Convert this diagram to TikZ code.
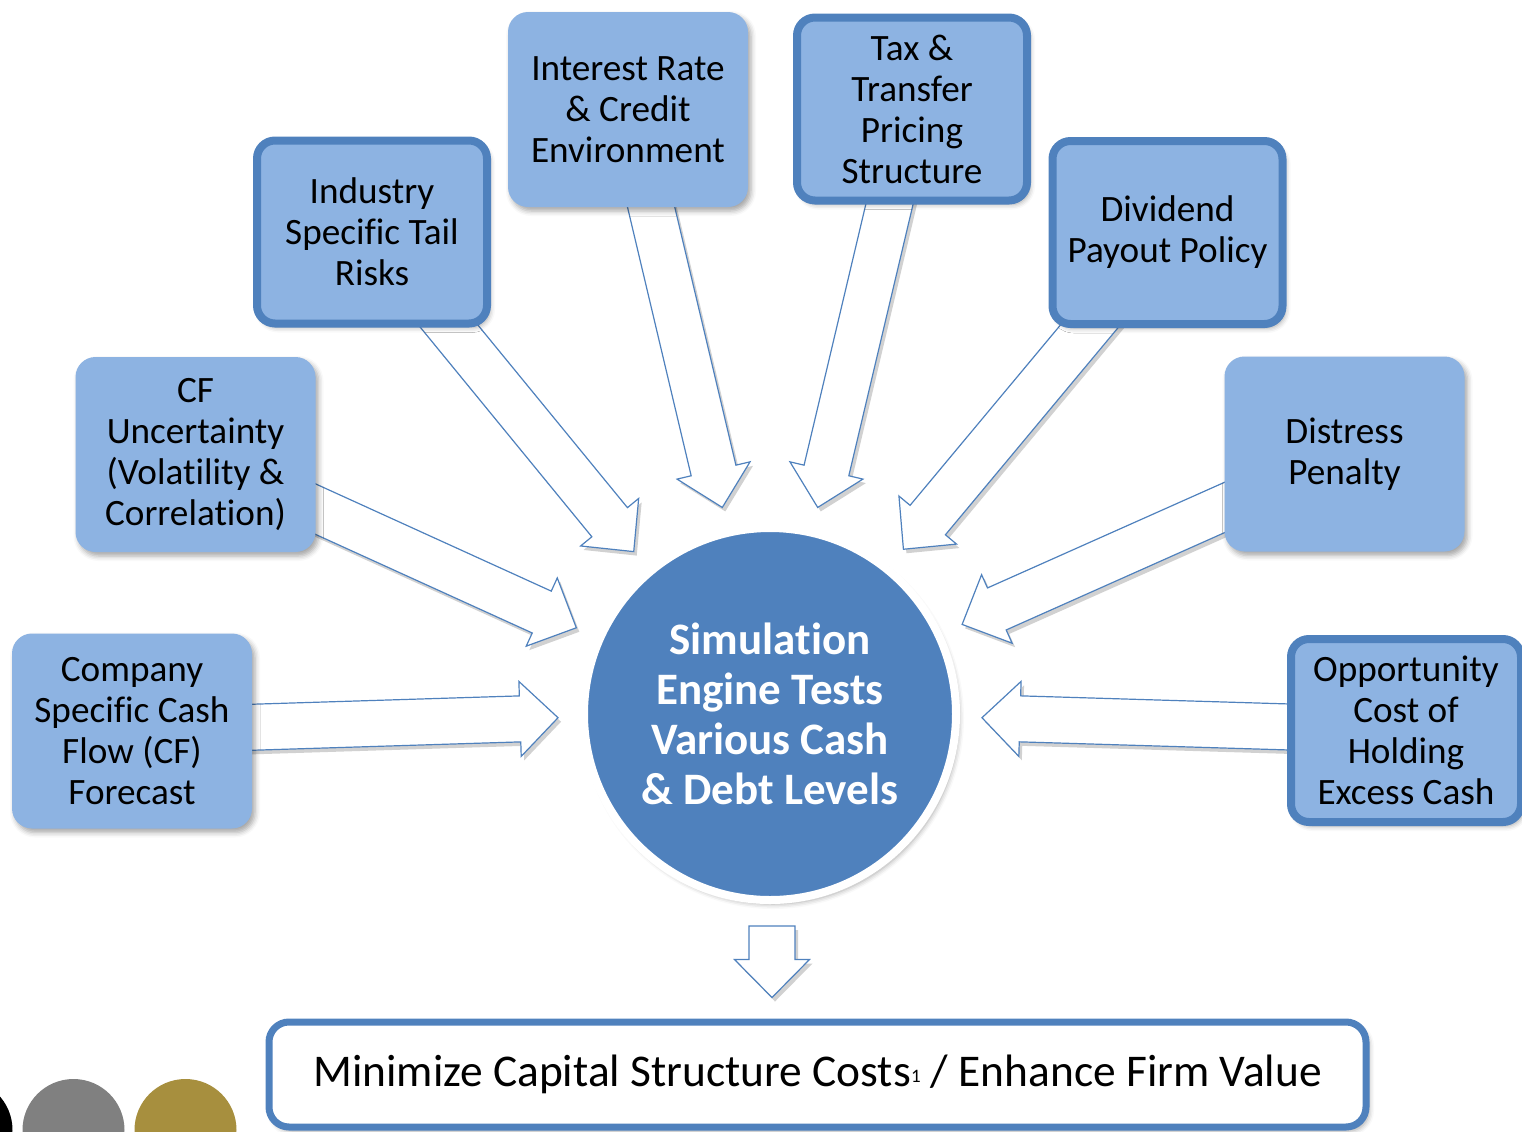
\documentclass[tikz,border=0pt]{standalone}
\usepackage{fontspec}
\setmainfont{Carlito}[Ligatures=NoCommon]
\usepackage{tikz}
\definecolor{boxfill}{RGB}{141,179,226}
\definecolor{boxline}{RGB}{79,129,189}
\definecolor{dotgray}{RGB}{128,128,128}
\definecolor{dotgold}{RGB}{167,143,62}
\usetikzlibrary{calc,backgrounds,shadows.blur}

% block arrow from the centre of a node to a tip coordinate
\newcommand{\blockarrow}[2]{%
    \coordinate (hb) at ($(#2)!19pt!(#1.center)$);
    \path[fatarrow] ($(#1.center)!11.5pt!90:(#2)$) -- ($(hb)!11.5pt!90:(#2)$)
        -- ($(hb)!18.75pt!90:(#2)$) -- (#2) -- ($(hb)!18.75pt!-90:(#2)$)
        -- ($(hb)!11.5pt!-90:(#2)$) -- ($(#1.center)!11.5pt!-90:(#2)$) -- cycle;}

\begin{document}
\begin{tikzpicture}[x=0.5pt,y=-0.5pt,
        softshadow/.style={blur shadow={shadow xshift=1.5pt,shadow yshift=-2pt,shadow blur radius=2.5pt,shadow opacity=35}},
        box/.style={rounded corners=10pt,fill=boxfill,minimum width=120pt,minimum height=97.5pt,
            inner sep=0pt,align=center,font=\fontsize{18.6}{20.5}\selectfont,softshadow},
        edgebox/.style={box,draw=boxline,line width=4pt,rounded corners=9pt,minimum width=115pt,minimum height=91.5pt},
        fatarrow/.style={draw=boxline,line width=0.6pt,fill=white,line join=miter,
            preaction={fill=black,opacity=0.18,transform canvas={shift={(1.5pt,-2pt)}}}}]
    \useasboundingbox (0,0) rectangle (1522,1131);

    \node[box] (cfo) at (132,731) {Company\\Specific Cash\\Flow (CF)\\Forecast};
    \node[box] (cfu) at (195.5,454.5) {CF\\Uncertainty\\(Volatility \&\\Correlation)};
    \node[edgebox] (ind) at (372,232) {Industry\\Specific Tail\\Risks};
    \node[box] (irc) at (628,109.5) {Interest Rate\\\& Credit\\Environment};
    \node[edgebox] (tax) at (912,109) {Tax \&\\Transfer\\Pricing\\Structure};
    \node[edgebox] (div) at (1167.5,232.5) {Dividend\\Payout Policy};
    \node[box] (dis) at (1344.5,454) {Distress\\Penalty};
    \node[edgebox] (opp) at (1406,730.5) {Opportunity\\Cost of\\Holding\\Excess Cash};

    \node[circle,fill=boxline,draw=white,line width=4pt,minimum size=186pt,inner sep=0pt,
        align=center,text=white,font=\fontsize{22.5}{25}\selectfont\bfseries,softshadow]
        (sim) at (770,714) {Simulation\\Engine Tests\\Various Cash\\\& Debt Levels};

    \node[rounded corners=10pt,draw=boxline,fill=white,line width=3.5pt,minimum width=548.5pt,
        minimum height=52.5pt,inner sep=0pt,font=\fontsize{22.7}{25}\selectfont,softshadow]
        (goal) at (817.5,1074.5) {Minimize Capital Structure Costs\raisebox{2pt}{\fontsize{9.5}{10}\selectfont 1} / Enhance Firm Value};

    \coordinate (t1) at ($(sim.center)+(179:212)$);
    \coordinate (t2) at ($(sim.center)+(204:212)$);
    \coordinate (t3) at ($(sim.center)+(230:212)$);
    \coordinate (t4) at ($(sim.center)+(257:212)$);
    \coordinate (t5) at ($(sim.center)+(283:212)$);
    \coordinate (t6) at ($(sim.center)+(309:212)$);
    \coordinate (t7) at ($(sim.center)+(335:212)$);
    \coordinate (t8) at ($(sim.center)+(1:212)$);
    \coordinate (dtop) at ($(sim.south)+(2,22)$);
    \coordinate (dtip) at ($(goal.north)+(-45.5,-21)$);

    \begin{scope}[on background layer]
        \blockarrow{cfo}{t1}
        \blockarrow{cfu}{t2}
        \blockarrow{ind}{t3}
        \blockarrow{irc}{t4}
        \blockarrow{tax}{t5}
        \blockarrow{div}{t6}
        \blockarrow{dis}{t7}
        \blockarrow{opp}{t8}
    \end{scope}
    \blockarrow{dtop}{dtip}

    \fill (-38.5,1130) circle (51);
    \fill[dotgray] (73.5,1130) circle (51);
    \fill[dotgold] (185.5,1130) circle (51);
\end{tikzpicture}
\end{document}
